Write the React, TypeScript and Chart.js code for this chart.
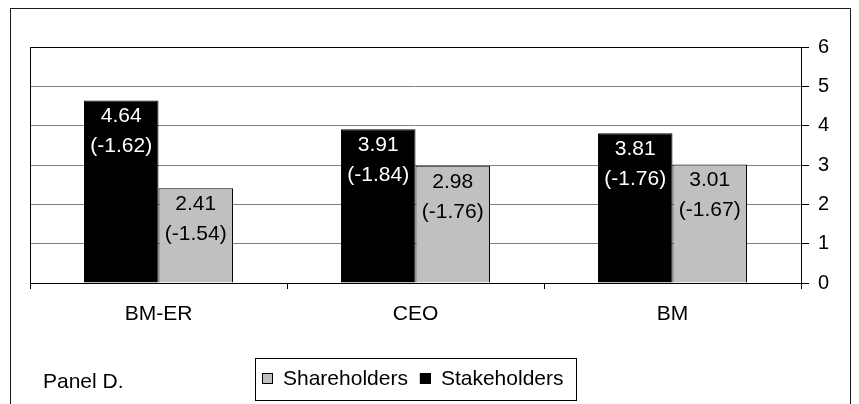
import React, { useEffect, useRef } from 'react';
import { Chart, registerables } from 'chart.js';

Chart.register(...registerables);

const categories = ['BM-ER', 'CEO', 'BM'];
const stakeholders = [4.64, 3.91, 3.81];
const stakeholdersT = [-1.62, -1.84, -1.76];
const shareholders = [2.41, 2.98, 3.01];
const shareholdersT = [-1.54, -1.76, -1.67];
const yMin = 0;
const yMax = 6;
const yStep = 1;
const panelLabel = 'Panel D.';
const legendOrder = ['Shareholders', 'Stakeholders'];

const FAMILY = '"Liberation Sans", Arial, Helvetica, sans-serif';
const W = 843;
const H = 396;

const framePlugin = {
  id: 'frame',
  beforeDraw(chart: any) {
    const ctx = chart.ctx;
    ctx.save();
    ctx.fillStyle = '#ffffff';
    ctx.fillRect(0, 0, chart.width, chart.height);
    ctx.strokeStyle = '#1a1a1a';
    ctx.lineWidth = 1;
    ctx.strokeRect(2.5, 0.5, chart.width - 3, chart.height + 10);
    ctx.restore();
  },
  afterDraw(chart: any) {
    const ctx = chart.ctx;
    const a = chart.chartArea;
    ctx.save();
    ctx.strokeStyle = '#000';
    ctx.lineWidth = 1;
    ctx.strokeRect(Math.round(a.left) + 0.5, Math.round(a.top) + 0.5, Math.round(a.right - a.left), Math.round(a.bottom - a.top));

    ctx.font = `21px ${FAMILY}`;
    ctx.fillStyle = '#000';
    ctx.textAlign = 'left';
    ctx.textBaseline = 'middle';
    ctx.fillText(panelLabel, 35, 374);

    const items = legendOrder.map((name) => {
      const idx = chart.data.datasets.findIndex((d: any) => d.label === name);
      const ds = chart.data.datasets[idx];
      return { name, color: ds.backgroundColor, w: ctx.measureText(name).width };
    });
    const padL = 7, padR = 13, sq = 11, gap = 10, itemGap = 12;
    let total = padL + padR;
    items.forEach((it, i) => {
      total += sq + gap + it.w + (i > 0 ? itemGap : 0);
    });
    const cx = (a.left + a.right) / 2;
    const bx = Math.round(cx - total / 2);
    const by = 350;
    const bh = 42;
    ctx.strokeStyle = '#000';
    ctx.strokeRect(bx + 0.5, by + 0.5, Math.round(total), bh);
    let x = bx + padL;
    const midY = by + 20;
    items.forEach((it, i) => {
      if (i > 0) x += itemGap;
      ctx.fillStyle = it.color;
      ctx.fillRect(x, midY - 5, sq, sq);
      ctx.strokeStyle = '#000';
      ctx.strokeRect(x + 0.5, midY - 5 + 0.5, sq - 1, sq - 1);
      x += sq + gap;
      ctx.fillStyle = '#000';
      ctx.fillText(it.name, x, midY + 1);
      x += it.w;
    });
    ctx.restore();
  },
  afterDatasetsDraw(chart: any) {
    const ctx = chart.ctx;
    ctx.save();
    ctx.font = `21px ${FAMILY}`;
    ctx.textAlign = 'center';
    ctx.textBaseline = 'middle';
    chart.data.datasets.forEach((ds: any, i: number) => {
      const meta = chart.getDatasetMeta(i);
      meta.data.forEach((bar: any, j: number) => {
        ctx.fillStyle = ds.labelColor;
        ctx.fillText(Number(ds.data[j]).toFixed(2), bar.x, bar.y + 16);
        ctx.fillText(`(${Number(ds.tStats[j]).toFixed(2)})`, bar.x, bar.y + 46);
      });
    });
    ctx.restore();
  },
};

export default function App() {
  const ref = useRef<HTMLCanvasElement | null>(null);

  useEffect(() => {
    if (!ref.current) return;
    Chart.defaults.font.family = FAMILY;
    const chart = new Chart(ref.current, {
      type: 'bar',
      data: {
        labels: categories,
        datasets: [
          {
            label: 'Stakeholders',
            data: stakeholders,
            tStats: stakeholdersT,
            labelColor: '#ffffff',
            backgroundColor: '#000000',
            borderColor: '#000000',
            borderWidth: 1,
            categoryPercentage: 0.58,
            barPercentage: 1,
          } as any,
          {
            label: 'Shareholders',
            data: shareholders,
            tStats: shareholdersT,
            labelColor: '#000000',
            backgroundColor: '#c0c0c0',
            borderColor: '#000000',
            borderWidth: 1,
            categoryPercentage: 0.58,
            barPercentage: 1,
          } as any,
        ],
      },
      options: {
        responsive: false,
        animation: false,
        devicePixelRatio: 1,
        layout: { padding: { left: 22, right: 0, top: 39, bottom: 61 } },
        plugins: {
          legend: { display: false },
          tooltip: { enabled: false },
        },
        scales: {
          x: {
            offset: true,
            grid: {
              display: true,
              drawOnChartArea: false,
              drawTicks: true,
              tickLength: 6,
              offset: true,
              color: '#000',
              tickColor: '#000',
            },
            border: { display: true, color: '#000' },
            ticks: { color: '#000', font: { size: 21, family: FAMILY }, padding: 13, maxRotation: 0 },
            afterFit: (s: any) => { s.height = 60; },
          },
          y: {
            position: 'right',
            min: yMin,
            max: yMax,
            ticks: { stepSize: yStep, color: '#000', font: { size: 20, family: FAMILY }, padding: 9 },
            grid: { color: '#808080', tickColor: '#000', tickLength: 8, drawTicks: true },
            border: { display: true, color: '#000' },
            afterFit: (s: any) => { s.width = 50; },
          },
        },
      },
      plugins: [framePlugin],
    });
    return () => chart.destroy();
  }, []);

  return (
    <div style={{ position: 'fixed', left: 8, top: 8, width: W, height: H }}>
      <canvas ref={ref} width={W} height={H} style={{ width: W, height: H, display: 'block' }} />
    </div>
  );
}
